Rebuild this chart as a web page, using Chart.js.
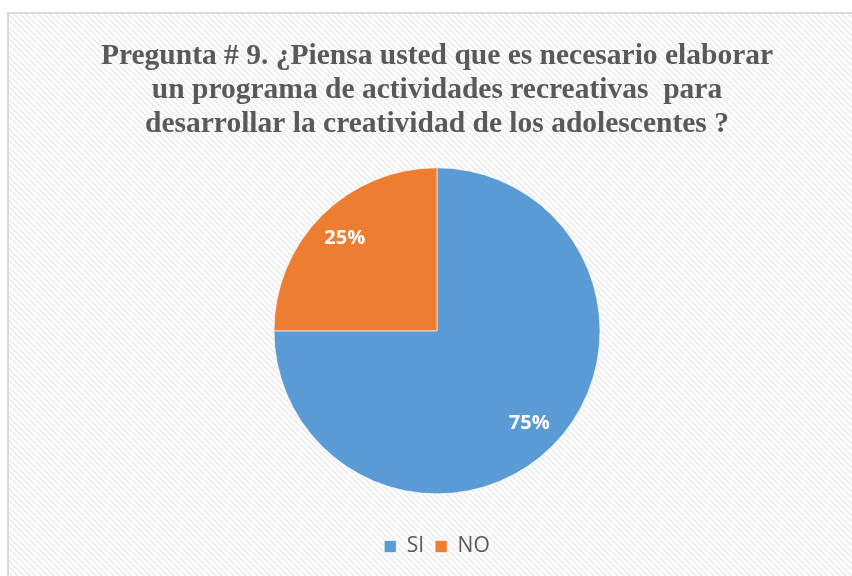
<!DOCTYPE html>
<html>
<head>
<meta charset="utf-8">
<script src="https://cdn.jsdelivr.net/npm/chart.js@4"></script>
<style>
    html, body { margin: 0; padding: 0; background: #fff; }
    #wrap { width: 852px; height: 576px; position: relative; }
</style>
</head>
<body>
<div id="wrap"><canvas id="pieChart"></canvas></div>
<script>
const categories = ['SI', 'NO'];
const percentages = [75, 25];
const sliceColors = ['#5b9bd5', '#ed7d31'];
const titleLines = [
    'Pregunta # 9. ¿Piensa usted que es necesario elaborar',
    'un programa de actividades recreativas  para',
    'desarrollar la creatividad de los adolescentes ?'
];

// Striped background with a thin gray frame
const backgroundPlugin = {
    id: 'stripedBackground',
    beforeDraw(chart) {
        const ctx = chart.ctx;
        const tile = document.createElement('canvas');
        tile.width = 6;
        tile.height = 6;
        const t = tile.getContext('2d');
        t.fillStyle = '#ffffff';
        t.fillRect(0, 0, 6, 6);
        t.strokeStyle = '#eeeeee';
        t.lineWidth = 2;
        t.beginPath();
        for (let k = -6; k <= 12; k += 6) {
            t.moveTo(k, 0);
            t.lineTo(k + 6, 6);
        }
        t.stroke();

        ctx.save();
        ctx.fillStyle = '#ffffff';
        ctx.fillRect(0, 0, chart.width, chart.height);
        ctx.fillStyle = ctx.createPattern(tile, 'repeat');
        ctx.fillRect(9, 14, chart.width - 9, chart.height - 14);
        ctx.strokeStyle = '#d9d9d9';
        ctx.lineWidth = 2;
        ctx.beginPath();
        ctx.moveTo(8, chart.height);
        ctx.lineTo(8, 13);
        ctx.lineTo(chart.width, 13);
        ctx.stroke();
        ctx.restore();
    }
};

// Percentage labels inside each slice
const sliceLabels = {
    id: 'sliceLabels',
    afterDatasetsDraw(chart) {
        const ctx = chart.ctx;
        const meta = chart.getDatasetMeta(0);
        ctx.save();
        ctx.fillStyle = '#ffffff';
        ctx.font = 'bold 20px "Open Sans", "Noto Sans", sans-serif';
        ctx.textAlign = 'center';
        ctx.textBaseline = 'middle';
        meta.data.forEach((arc, i) => {
            const p = arc.getProps(['x', 'y', 'startAngle', 'endAngle', 'outerRadius']);
            const mid = (p.startAngle + p.endAngle) / 2;
            const r = p.outerRadius * 0.8;
            ctx.fillText(percentages[i] + '%', p.x + Math.cos(mid) * r, p.y + Math.sin(mid) * r);
        });
        ctx.restore();
    }
};

const ctx = document.getElementById('pieChart').getContext('2d');
new Chart(ctx, {
    type: 'pie',
    data: {
        labels: categories,
        datasets: [{
            data: percentages,
            backgroundColor: sliceColors,
            borderColor: 'rgba(255,255,255,0.6)',
            borderWidth: 1,
            radius: 163
        }]
    },
    options: {
        responsive: true,
        maintainAspectRatio: false,
        animation: false,
        layout: {
            padding: { left: 22, right: 0, top: 0, bottom: 9 }
        },
        plugins: {
            title: {
                display: true,
                text: titleLines,
                color: '#595959',
                font: { family: '"Liberation Serif", "Times New Roman", serif', size: 29.5, weight: 'bold', lineHeight: 1.16 },
                padding: { top: 39, bottom: -5 }
            },
            legend: {
                position: 'bottom',
                labels: {
                    color: '#595959',
                    font: { family: '"Open Sans", "Noto Sans", sans-serif', size: 21 },
                    boxWidth: 12,
                    boxHeight: 12,
                    padding: 11
                }
            },
            tooltip: { enabled: false }
        }
    },
    plugins: [backgroundPlugin, sliceLabels]
});
</script>
</body>
</html>
